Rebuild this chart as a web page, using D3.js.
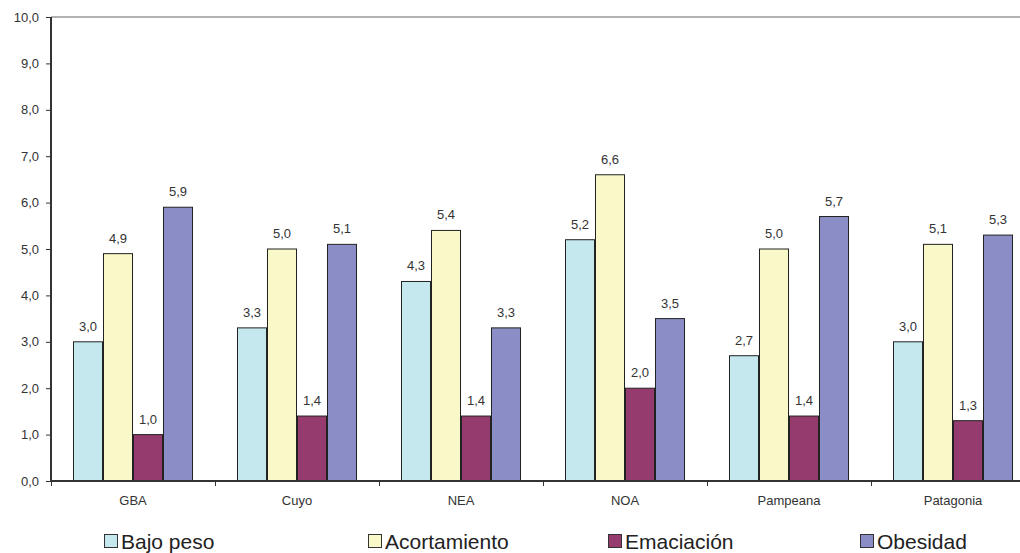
<!DOCTYPE html>
<html><head><meta charset="utf-8">
<script src="https://cdn.jsdelivr.net/npm/d3@7"></script>
<style>body{margin:0;background:#fff}svg{display:block}</style>
</head><body>
<script>
const categories = ["GBA","Cuyo","NEA","NOA","Pampeana","Patagonia"];
const seriesNames = ["Bajo peso","Acortamiento","Emaciación","Obesidad"];
const bajoPeso = [3.0,3.3,4.3,5.2,2.7,3.0];
const acortamiento = [4.9,5.0,5.4,6.6,5.0,5.1];
const emaciacion = [1.0,1.4,1.4,2.0,1.4,1.3];
const obesidad = [5.9,5.1,3.3,3.5,5.7,5.3];
const yTicks = [0,1,2,3,4,5,6,7,8,9,10];
const colors = ["#c4e8ee","#f9f8c9","#963b6d","#8b8ec6"];
const series = [bajoPeso, acortamiento, emaciacion, obesidad];

const W = 1020, H = 553;
const FF = "Arial, 'Liberation Sans', sans-serif";
const svg = d3.select("body").append("svg").attr("width", W).attr("height", H)
  .style("font-family", FF);

const x0 = 51, y0 = 481, yTop = 17;
const x = d3.scaleBand().domain(categories).range([x0, x0 + 164*6]).paddingInner(0).paddingOuter(0);
const x1 = d3.scaleBand().domain(seriesNames).range([22, 142]).padding(0);
const y = d3.scaleLinear().domain([0,10]).range([y0, yTop]);

// top gridline
svg.append("line").attr("x1", x0).attr("x2", W).attr("y1", y(10)).attr("y2", y(10))
  .attr("stroke","#999").attr("stroke-width",1.5);

// bars
const fmt = v => v.toFixed(1).replace(".", ",");
categories.forEach((c, i) => {
  series.forEach((s, j) => {
    const bx = x(c) + x1(seriesNames[j]);
    svg.append("rect").attr("x", bx + 0.5).attr("y", y(s[i]))
      .attr("width", x1.bandwidth() - 1).attr("height", y0 - y(s[i]))
      .attr("fill", colors[j]).attr("stroke","#222").attr("stroke-width",1);
    svg.append("text").attr("x", bx + x1.bandwidth()/2).attr("y", y(s[i]) - 11)
      .attr("text-anchor","middle").attr("font-size", 13).attr("fill","#333").text(fmt(s[i]));
  });
});

// y axis
const yAxis = svg.append("g").attr("transform", `translate(${x0},0)`)
  .call(d3.axisLeft(y).tickValues(yTicks).tickSize(5).tickPadding(7).tickFormat(fmt));
yAxis.select(".domain").attr("stroke","#333").attr("stroke-width",2).attr("d", `M0,${y0}V${yTop}`);
yAxis.selectAll(".tick line").attr("stroke","#333");
yAxis.selectAll(".tick text").attr("font-size", 13).attr("fill","#333").attr("font-family", FF);

// x axis
const xAxis = svg.append("g").attr("transform", `translate(0,${y0})`)
  .call(d3.axisBottom(x).tickSize(0).tickPadding(15));
xAxis.select(".domain").attr("stroke","#333").attr("stroke-width",2).attr("d", `M${x0},0H${x0+164*6}`);
xAxis.selectAll(".tick text").attr("font-size", 13).attr("fill","#333").attr("font-family", FF);
// category separators
categories.forEach((c,i) => {
  svg.append("line").attr("x1", x(c)+0.5).attr("x2", x(c)+0.5).attr("y1", y0).attr("y2", y0+5)
    .attr("stroke","#333");
});

// legend
const legX = [104, 368, 608, 860];
seriesNames.forEach((n, j) => {
  const g = svg.append("g").attr("transform", `translate(${legX[j]},541)`);
  g.append("rect").attr("x", 0.5).attr("y", -6.5).attr("width", 13).attr("height", 13)
    .attr("fill", colors[j]).attr("stroke","#333").attr("stroke-width",1);
  g.append("text").attr("x", 17).attr("y", 7.5).attr("font-size", 21).attr("fill","#222").text(n);
});
</script>
</body></html>
